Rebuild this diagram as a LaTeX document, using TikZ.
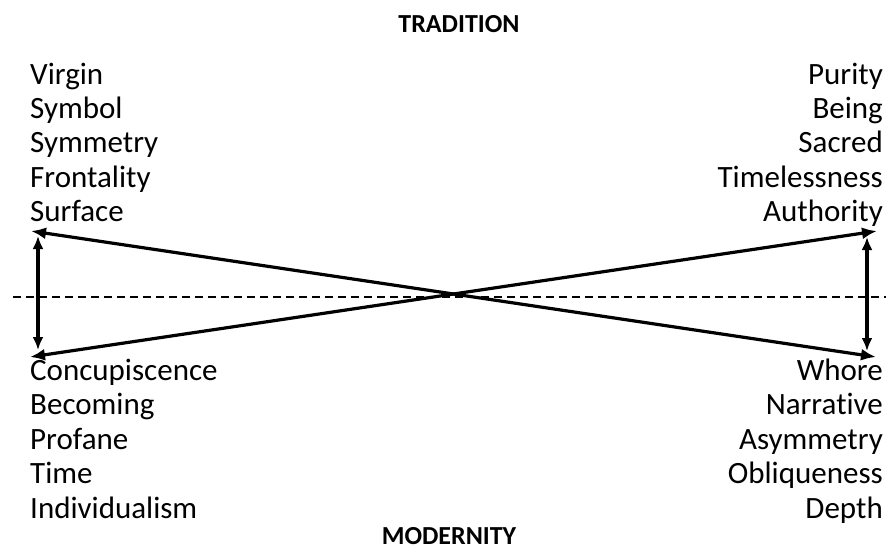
\documentclass[tikz,border=0pt]{standalone}
\usepackage{fontspec}
\setmainfont[Ligatures={NoCommon}]{Carlito}
\usetikzlibrary{arrows.meta}
\begin{document}
\begin{tikzpicture}[x=1pt,y=-1pt,
  word/.style={font=\fontsize{31}{36}\selectfont,inner sep=0pt},
  heading/.style={font=\fontsize{26}{30}\selectfont\bfseries,inner sep=0pt,anchor=base},
  cross/.style={line width=3.2pt,{Latex[length=15pt,width=12pt]}-{Latex[length=15pt,width=12pt]}},
  span/.style={line width=3.2pt,{Latex[length=13pt,width=11pt]}-{Latex[length=13pt,width=11pt]}}]
\useasboundingbox (0,0) rectangle (886,550);
% headings
\node[heading] (trad) at (459,32) {TRADITION};
\node[heading] (mod) at (449,544) {MODERNITY};
% word columns
\foreach \w [count=\i] in {Virgin,Symbol,Symmetry,Frontality,Surface}
  \node[word,anchor=base west] (tl\i) at (30,{84+34.4*(\i-1)}) {\w};
\foreach \w [count=\i] in {Purity,Being,Sacred,Timelessness,Authority}
  \node[word,anchor=base east] (tr\i) at (883,{84+34.4*(\i-1)}) {\w};
\foreach \w [count=\i] in {Concupiscence,Becoming,Profane,Time,Individualism}
  \node[word,anchor=base west] (bl\i) at (30,{380+34.5*(\i-1)}) {\w};
\foreach \w [count=\i] in {Whore,Narrative,Asymmetry,Obliqueness,Depth}
  \node[word,anchor=base east] (br\i) at (883,{380+34.5*(\i-1)}) {\w};
% arrow ends
\coordinate (tipTL) at (31,231);
\coordinate (tipTR) at (877,231);
\coordinate (tipBL) at (30,357);
\coordinate (tipBR) at (876,357);
\coordinate (spanTL) at (38,236);
\coordinate (spanBL) at (38,350);
\coordinate (spanTR) at (867,237);
\coordinate (spanBR) at (867,351);
\coordinate (axisL) at (13,297);
\coordinate (axisR) at (886,297);
% axis and arrows
\draw[line width=1.1pt,dash pattern=on 8pt off 5pt] (axisL) -- (axisR);
\draw[cross] (tipTL) -- (tipBR);
\draw[cross] (tipBL) -- (tipTR);
\draw[span] (spanTL) -- (spanBL);
\draw[span] (spanTR) -- (spanBR);
\end{tikzpicture}
\end{document}
